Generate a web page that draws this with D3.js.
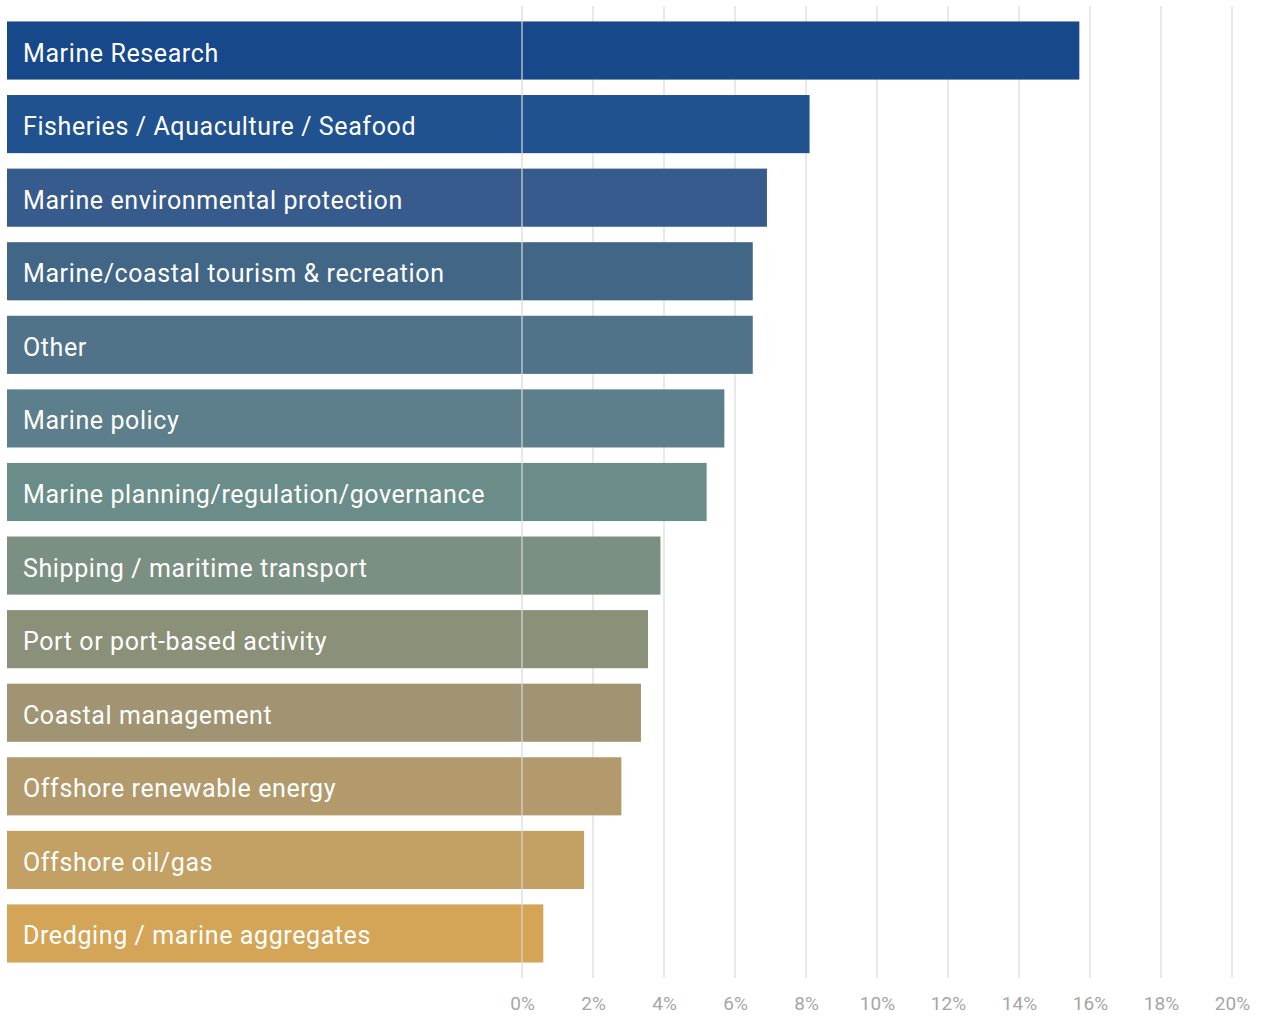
<!DOCTYPE html>
<html>
<head>
<meta charset="utf-8">
<script src="https://cdn.jsdelivr.net/npm/d3@7"></script>
<style>
  html, body { margin: 0; padding: 0; background: #ffffff; }
  svg { display: block; }
  .bar-label { font-family: Roboto, "DejaVu Sans", sans-serif; fill: #ffffff; }
  .tick-label { font-family: Roboto, "DejaVu Sans", sans-serif; fill: #a6a6a6; }
</style>
</head>
<body>
<svg id="chart" width="1263" height="1016"></svg>
<script>
// Sectors, share of respondents (%)
const categories = [
  "Marine Research",
  "Fisheries / Aquaculture / Seafood",
  "Marine environmental protection",
  "Marine/coastal tourism & recreation",
  "Other",
  "Marine policy",
  "Marine planning/regulation/governance",
  "Shipping / maritime transport",
  "Port or port-based activity",
  "Coastal management",
  "Offshore renewable energy",
  "Offshore oil/gas",
  "Dredging / marine aggregates"
];
const values = [15.7, 8.1, 6.9, 6.5, 6.5, 5.7, 5.2, 3.9, 3.55, 3.35, 2.8, 1.75, 0.6];
const barColors = [
  "#174889", "#1f528e", "#375b8c", "#416686", "#507389", "#5c7f8b", "#6b8d8a",
  "#7b9082", "#8b9079", "#a09473", "#b29a6c", "#c3a063", "#d4a556"
];
const tickValues = [0, 2, 4, 6, 8, 10, 12, 14, 16, 18, 20];

const svg = d3.select("#chart");

// Bars start at the left edge of the plot; the percentage axis begins further right.
const plotLeft = 7;
const x = d3.scaleLinear().domain([0, 20]).range([522, 1232]);
const y = d3.scaleBand().domain(categories).range([6, 978]).padding(0.21);

// Vertical gridlines behind the bars
svg.append("g")
  .selectAll("line")
  .data(tickValues.filter(d => d !== 0))
  .join("line")
  .attr("x1", d => x(d)).attr("x2", d => x(d))
  .attr("y1", 6).attr("y2", 978)
  .attr("stroke", "#e9e9e9")
  .attr("stroke-width", 2);

// Bars
svg.append("g")
  .selectAll("rect")
  .data(categories)
  .join("rect")
  .attr("x", plotLeft)
  .attr("y", d => y(d))
  .attr("width", (d, i) => x(values[i]) - plotLeft)
  .attr("height", y.bandwidth())
  .attr("fill", (d, i) => barColors[i]);

// Zero line drawn over the bars
svg.append("line")
  .attr("x1", x(0)).attr("x2", x(0))
  .attr("y1", 6).attr("y2", 978)
  .attr("stroke", "#d8d8d8")
  .attr("stroke-opacity", 0.6)
  .attr("stroke-width", 2);

// Category labels inside bars
svg.append("g")
  .selectAll("text")
  .data(categories)
  .join("text")
  .attr("class", "bar-label")
  .attr("x", 23)
  .attr("y", d => y(d) + y.bandwidth() / 2)
  .attr("dy", "0.44em")
  .attr("font-size", 25)
  .attr("letter-spacing", "0.6px")
  .text(d => d);

// Bottom axis labels
const axis = d3.axisBottom(x)
  .tickValues(tickValues)
  .tickSize(0)
  .tickPadding(0)
  .tickFormat(d => d + "%");

const axisG = svg.append("g")
  .attr("transform", "translate(0,996)")
  .call(axis);
axisG.select(".domain").remove();
axisG.selectAll("text")
  .attr("class", "tick-label")
  .attr("font-size", 19)
  .attr("dy", "0.71em")
  .attr("fill", "#a3a3a3");
</script>
</body>
</html>
